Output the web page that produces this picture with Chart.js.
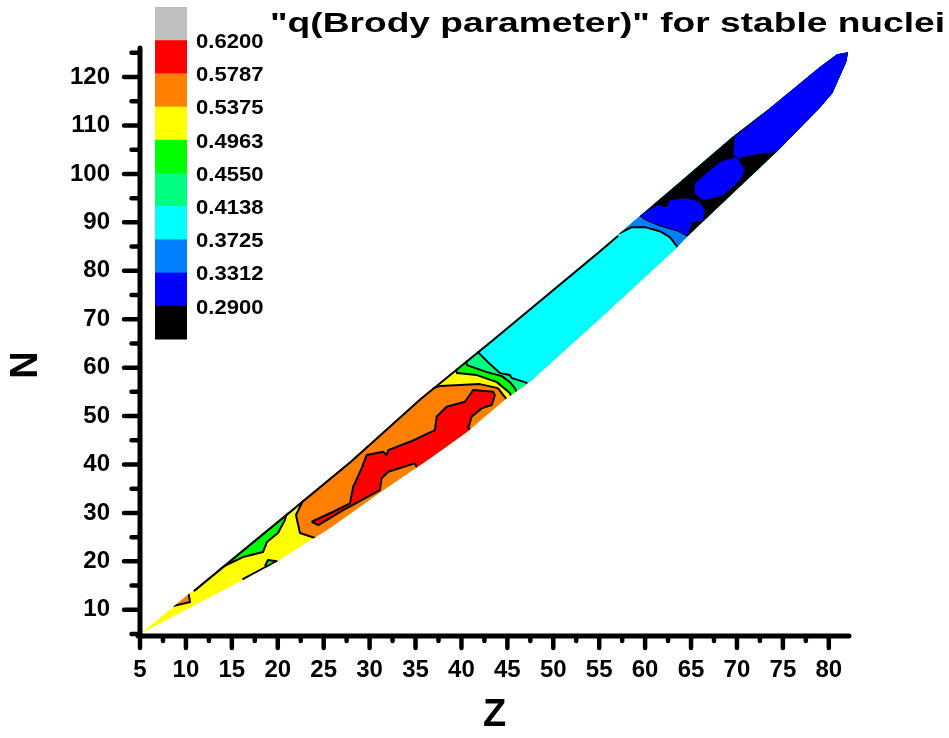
<!DOCTYPE html>
<html lang="en">
<head>
    <meta charset="UTF-8">
    <script src="https://cdn.jsdelivr.net/npm/chart.js"></script>
    <title>q(Brody parameter) for stable nuclei</title>
    <style>
        html, body { margin: 0; padding: 0; background: #fff; }
    </style>
</head>
<body>
    <div>
        <canvas id="myChart" width="949" height="738"></canvas>
    </div>
    <script>
        // axis ticks
        const zTicks = [5, 10, 15, 20, 25, 30, 35, 40, 45, 50, 55, 60, 65, 70, 75, 80];
        const nTicks = [10, 20, 30, 40, 50, 60, 70, 80, 90, 100, 110, 120];
        const zMinor = zTicks.map(v => v + 2.5);
        const nMinor = [5].concat(nTicks.map(v => v + 5));

        // contour levels shown in the colour bar (top to bottom)
        const levels = [0.6200, 0.5787, 0.5375, 0.4963, 0.4550, 0.4138, 0.3725, 0.3312, 0.2900];
        const levelColors = ['#c0c0c0', '#ff0000', '#ff8000', '#ffff00', '#00ff00', '#00ff80', '#00ffff', '#0080ff', '#0000ff', '#000000'];

        // outline of the stable nuclei band, [Z, N]
        const upperEdge = [[5, 5], [20.8, 29.6], [27.9, 40.7], [35.5, 53.7], [43.3, 65.7], [55.1, 84.3], [62.7, 96.6], [69.5, 107.6], [73.6, 113.6], [79.0, 122.0], [80.9, 124.7], [82.1, 125.1]];
        const lowerEdge = [[5, 5], [16.2, 16.1], [19.9, 19.9], [25.7, 26.9], [31.5, 34.7], [36.6, 41.3], [40.6, 46.7], [44.7, 53.3], [47.5, 57.2], [55.1, 70.2], [63.5, 84.9], [64.5, 86.9], [74.3, 104.5], [79.0, 113.6], [80.4, 116.7], [81.9, 123.1]];

        // closed contour patches
        const orangeSpot = [[8.6, 10.75], [10.2, 14.2], [10.45, 11.6]];
        const greenPatch = [[12.62, 18.62], [13.71, 18.62], [16.21, 20.89], [18.39, 21.92], [18.82, 23.99], [20.02, 25.85], [20.78, 28.53], [21.22, 31.63], [12.0, 19.5]];
        const greenSpot = [[18.61, 19.04], [18.93, 20.27], [19.69, 20.07], [20.35, 19.65], [20.02, 17.8]];
        const orangeZone = [[22.96, 35.13], [22.63, 32.04], [21.98, 29.56], [22.42, 25.85], [24.05, 24.81], [24.59, 23.37], [46.36, 49.17], [45.17, 52.88], [44.73, 53.92], [43.97, 55.77], [42.01, 56.6], [39.83, 56.39], [37.66, 56.19], [36.89, 55.77], [36.57, 57.43]];
        const redZone = [[23.69, 28.18], [26.04, 30.24], [27.86, 31.98], [28.22, 35.40], [29.13, 39.20], [29.68, 41.95], [31.48, 42.63], [31.85, 41.95], [32.03, 42.98], [34.39, 44.69], [37.11, 47.11], [37.30, 49.85], [38.38, 51.91], [40.38, 52.95], [41.28, 55.36], [43.46, 55.01], [43.64, 54.33], [43.28, 52.27], [42.19, 51.59], [41.11, 49.85], [40.74, 47.46], [42.0, 46.0], [35.5, 38.0], [34.93, 40.23], [32.03, 38.50], [31.31, 37.14], [31.12, 34.72], [27.13, 30.59], [24.41, 27.5]];
        const blueBlob1 = [[58.99, 92.10], [59.43, 91.48], [60.19, 90.45], [61.60, 89.41], [63.45, 88.38], [64.54, 87.35], [65.19, 90.04], [66.28, 90.45], [66.50, 92.51], [65.96, 94.16], [64.54, 94.99], [62.69, 94.58], [62.36, 93.13], [61.38, 93.55], [59.75, 91.89]];
        const blueBlob2 = [[65.41, 98.02], [66.69, 100.09], [68.13, 102.48], [69.95, 103.51], [70.86, 100.77], [70.31, 98.71], [68.49, 95.61], [66.32, 94.58], [65.41, 95.96]];

        // contour lines crossing the band; the level above lies to the right
        const cutGreen = [[39.29, 60.73], [39.51, 58.87], [41.68, 58.46], [43.86, 57.01], [45.27, 54.74], [45.71, 52.88]];
        const cutSpring = [[40.38, 62.17], [40.6, 60.52], [42.77, 59.08], [44.40, 58.25], [45.27, 57.01], [45.82, 55.77], [46.36, 53.71]];
        const cutCyan = [[41.36, 65.06], [41.79, 63.20], [42.88, 61.14], [44.19, 58.87], [45.27, 58.46], [45.49, 57.84], [46.91, 57.01], [47.45, 56.39], [48.0, 54.95]];
        const cutAzure = [[56.38, 88.80], [57.25, 87.77], [58.55, 89.01], [59.97, 89.01], [61.60, 88.18], [62.69, 86.94], [63.45, 85.08], [64.32, 82.6]];
        const cutBlack = [[58.99, 92.10], [59.43, 91.48], [60.19, 90.45], [61.60, 89.41], [63.45, 88.38], [64.54, 87.35], [65.41, 85.28]];
        const cutTop = [[73.36, 115.22], [73.58, 113.50], [69.77, 107.64], [69.58, 104.22], [70.13, 103.18], [71.40, 103.87], [72.85, 104.22], [74.12, 104.55], [75.21, 102.83]];

        // contour lines lying on the band edge
        const upperLine = [[10.8, 14.0], [20.8, 29.6], [27.9, 40.7], [35.5, 53.7], [43.3, 65.7], [55.1, 84.3], [57.0, 87.4]];
        const lowerLine = [[16.2, 16.1], [20.0, 19.9]];

        const FONT = "'Liberation Sans', Arial, sans-serif";
        const toPts = arr => arr.map(([x, y]) => ({x, y}));

        function patch(points, color, outlined) {
            return {
                data: toPts(points.concat([points[0]])),
                showLine: true,
                fill: 'shape',
                backgroundColor: color,
                borderColor: outlined ? '#000' : 'rgba(0,0,0,0)',
                borderWidth: outlined ? 2 : 1,
                borderJoinStyle: 'round',
                pointRadius: 0,
                tension: 0
            };
        }
        // everything beyond a cut line (clipped to the band later)
        function beyond(cut) {
            const first = cut[0], last = cut[cut.length - 1];
            return cut.concat([[100, last[1] - 60], [100, 160], [first[0], 160]]);
        }
        function edge(points) {
            return {
                data: toPts(points), showLine: true, fill: false,
                borderColor: '#000', borderWidth: 4, pointRadius: 0, tension: 0
            };
        }

        // bottom to top
        const layers = [
            patch(upperEdge.concat(lowerEdge.slice().reverse()), '#ffff00', false),
            patch(orangeSpot, '#ff8000', true),
            patch(greenPatch, '#00ff00', true),
            patch(greenSpot, '#00ff00', true),
            patch(orangeZone, '#ff8000', true),
            patch(redZone, '#ff0000', true),
            patch(beyond(cutGreen), '#00ff00', true),
            patch(beyond(cutSpring), '#00ff80', true),
            patch(beyond(cutCyan), '#00ffff', true),
            patch(beyond(cutAzure), '#0080ff', true),
            patch(beyond(cutBlack), '#000000', true),
            patch(blueBlob1, '#0000ff', false),
            patch(blueBlob2, '#0000ff', false),
            patch(beyond(cutTop), '#0000ff', false),
            edge(upperLine),
            edge(lowerLine)
        ];
        layers.forEach((d, i) => { d.order = layers.length - i; });

        const bandClip = {
            id: 'bandClip',
            beforeDatasetsDraw(chart) {
                const {ctx, scales: {x, y}} = chart;
                const outline = upperEdge.concat(lowerEdge.slice().reverse());
                ctx.save();
                ctx.beginPath();
                outline.forEach(([z, n], i) => {
                    const px = x.getPixelForValue(z), py = y.getPixelForValue(n);
                    if (i) ctx.lineTo(px, py); else ctx.moveTo(px, py);
                });
                ctx.closePath();
                ctx.clip();
            },
            afterDatasetsDraw(chart) {
                chart.ctx.restore();
            }
        };

        const decorations = {
            id: 'decorations',
            afterDraw(chart) {
                const {ctx, chartArea: a, scales: {x, y}} = chart;
                ctx.save();
                ctx.strokeStyle = '#000';
                ctx.lineCap = 'round';
                const axisY = a.bottom + 2, axisX = a.left;
                ctx.lineWidth = 5;
                ctx.beginPath();
                ctx.moveTo(axisX, a.top);
                ctx.lineTo(axisX, axisY);
                ctx.moveTo(axisX - 2, axisY);
                ctx.lineTo(a.right, axisY);
                ctx.stroke();

                ctx.lineWidth = 4.5;
                ctx.beginPath();
                zTicks.forEach(v => { const p = x.getPixelForValue(v); ctx.moveTo(p, axisY); ctx.lineTo(p, axisY + 12); });
                zMinor.filter(v => v < x.max).forEach(v => { const p = x.getPixelForValue(v); ctx.moveTo(p, axisY); ctx.lineTo(p, axisY + 5); });
                nTicks.forEach(v => { const p = y.getPixelForValue(v); ctx.moveTo(axisX, p); ctx.lineTo(axisX - 16, p); });
                nMinor.filter(v => v < y.max).forEach(v => { const p = y.getPixelForValue(v); ctx.moveTo(axisX, p); ctx.lineTo(axisX - 8.5, p); });
                ctx.stroke();

                // colour bar
                const barX = 155, barW = 32, barTop = 7, step = 33.2;
                levelColors.forEach((c, i) => {
                    ctx.fillStyle = c;
                    ctx.fillRect(barX, barTop + i * step, barW, step + 0.5);
                });
                ctx.fillStyle = '#000';
                ctx.font = 'bold 21px ' + FONT;
                ctx.textBaseline = 'middle';
                ctx.textAlign = 'left';
                levels.forEach((v, i) => {
                    ctx.save();
                    ctx.translate(196, barTop + (i + 1) * step + 2);
                    ctx.scale(1.05, 1);
                    ctx.fillText(v.toFixed(4), 0, 0);
                    ctx.restore();
                });

                // title
                const title = '"q(Brody parameter)" for stable nuclei';
                ctx.font = 'bold 28px ' + FONT;
                ctx.textBaseline = 'alphabetic';
                ctx.textAlign = 'right';
                const sx = 675 / ctx.measureText(title).width;
                ctx.save();
                ctx.translate(945, 32);
                ctx.scale(sx, 1);
                ctx.fillText(title, 0, 0);
                ctx.restore();

                // N axis title
                ctx.font = 'bold 38px ' + FONT;
                ctx.textAlign = 'center';
                ctx.textBaseline = 'middle';
                ctx.save();
                ctx.translate(27, 365);
                ctx.rotate(-Math.PI / 2);
                ctx.fillText('N', 0, 0);
                ctx.restore();
                ctx.restore();
            }
        };

        const tickFont = {family: FONT, size: 24, weight: 'bold'};
        new Chart(document.getElementById('myChart'), {
            type: 'scatter',
            data: {datasets: layers},
            options: {
                responsive: false,
                animation: false,
                events: [],
                layout: {padding: {left: 0, right: 100, top: 48, bottom: 0}},
                plugins: {legend: {display: false}, tooltip: {enabled: false}},
                scales: {
                    x: {
                        type: 'linear', min: 5, max: 82.2,
                        grid: {display: false, drawTicks: false},
                        border: {display: false},
                        afterBuildTicks: s => { s.ticks = zTicks.map(v => ({value: v})); },
                        afterFit: s => { s.height = 104; },
                        ticks: {font: tickFont, color: '#000', padding: 22, maxRotation: 0, autoSkip: false},
                        title: {display: true, text: 'Z', color: '#000', font: {family: FONT, size: 38, weight: 'bold'}, padding: {top: 0, bottom: 0}}
                    },
                    y: {
                        type: 'linear', min: 5, max: 126,
                        grid: {display: false, drawTicks: false},
                        border: {display: false},
                        afterBuildTicks: s => { s.ticks = nTicks.map(v => ({value: v})); },
                        afterFit: s => { s.width = 140; },
                        ticks: {font: tickFont, color: '#000', padding: 30, autoSkip: false}
                    }
                }
            },
            plugins: [bandClip, decorations]
        });
    </script>
</body>
</html>
